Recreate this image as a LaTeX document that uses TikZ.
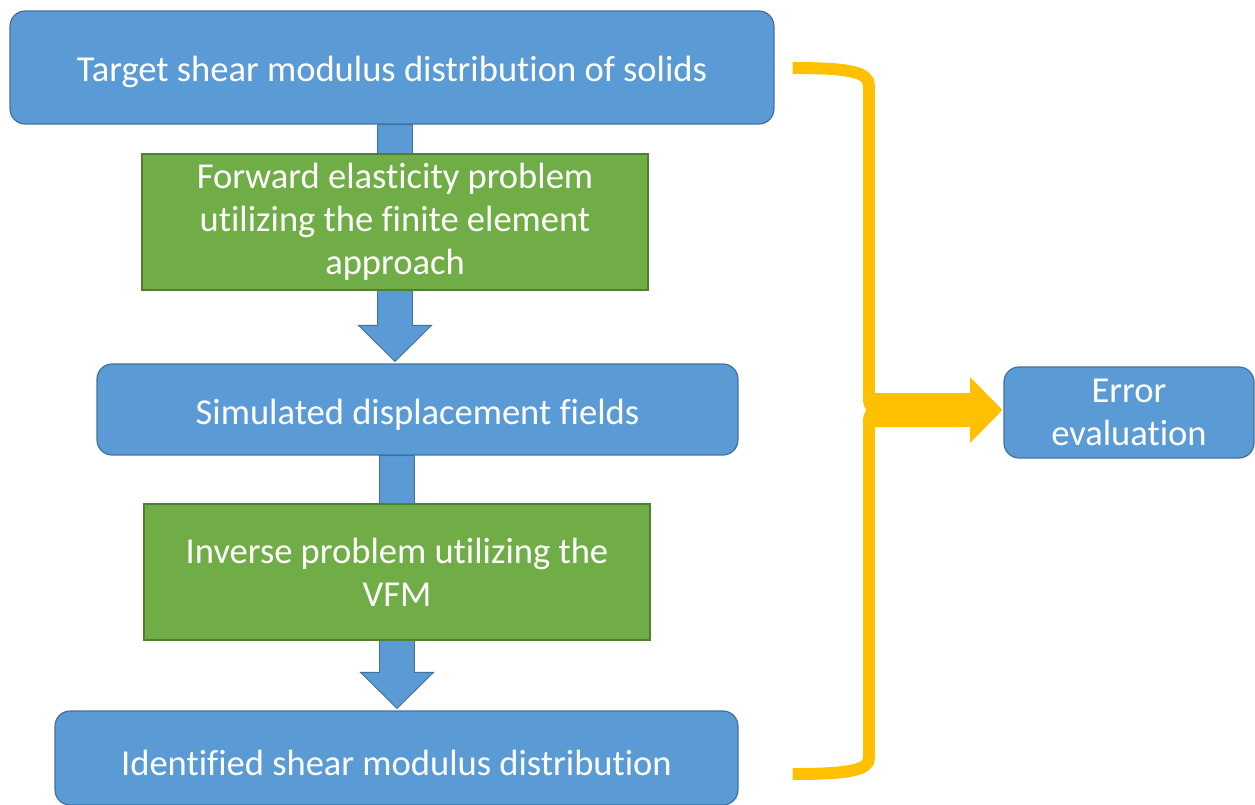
\documentclass[tikz,border=0pt]{standalone}
\usepackage{fontspec}
\setmainfont[Ligatures=NoCommon]{Carlito}
\usetikzlibrary{calc,backgrounds}

\definecolor{boxblue}{HTML}{5B9BD5}
\definecolor{edgeblue}{HTML}{41719C}
\definecolor{boxgreen}{HTML}{70AD47}
\definecolor{edgegreen}{HTML}{507E32}
\definecolor{braceyellow}{HTML}{FFC000}

\tikzset{
  bluebox/.style={draw=edgeblue, fill=boxblue, rounded corners=0.3cm, line width=0.7pt,
    text=white, align=center, inner sep=0pt, font=\fontsize{20.8}{24.6}\selectfont},
  greenbox/.style={draw=edgegreen, fill=boxgreen, line width=0.7pt,
    text=white, align=center, inner sep=0pt, font=\fontsize{20.8}{24.6}\selectfont},
  oneline/.style={execute at begin node={\rule{0pt}{20pt}}},
  blkarrow/.style={draw=edgeblue, fill=boxblue, line width=0.5pt, line join=miter},
  bracestroke/.style={draw=braceyellow, line width=6.8pt}
}

% down block arrow: #1 gives x, from #2 to #3
\newcommand{\blockdown}[3]{%
  \draw[blkarrow] ($(#2.south -| #1.center)+(-17.5,0)$)
    -- ($(#3.north -| #1.center)+(-17.5,-38)$) -- ++(-19,0)
    -- ($(#3.north -| #1.center)+(0,-2)$)
    -- ($(#3.north -| #1.center)+(36.5,-38)$) -- ++(-19,0)
    -- ($(#2.south -| #1.center)+(17.5,0)$) -- cycle;}

\begin{document}
\begin{tikzpicture}[x=0.02cm, y=-0.02cm]
  \useasboundingbox (0,0) rectangle (1255,805);

  % main column
  \node[bluebox, oneline, minimum width=15.28cm, minimum height=2.26cm] (target) at (392,67.5)
    {Target shear modulus distribution of solids};
  \node[greenbox, oneline, minimum width=10.12cm, minimum height=2.72cm] (fwd) at (395,222)
    {Forward elasticity problem\\utilizing the finite element\\approach};
  \node[bluebox, oneline, minimum width=12.82cm, minimum height=1.82cm] (sim) at (417.5,409.5)
    {Simulated displacement fields};
  \node[greenbox, minimum width=10.12cm, minimum height=2.72cm] (inv) at (397,572)
    {Inverse problem utilizing the\\VFM};
  \node[bluebox, oneline, minimum width=13.66cm, minimum height=1.88cm] (ident) at (396.5,758)
    {Identified shear modulus distribution};

  % side box
  \node[bluebox, minimum width=5.0cm, minimum height=1.82cm] (err) at (1129,412.5)
    {Error\\evaluation};

  \begin{scope}[on background layer]
    \blockdown{fwd}{target}{sim}
    \blockdown{inv}{sim}{ident}
  \end{scope}

  % brace
  \coordinate (btop) at ($(target.east)+(18,0.5)$);
  \coordinate (bbot) at ($(ident.east)+(54,16)$);
  \coordinate (cusp) at (880,410);
  \draw[bracestroke] (btop) .. controls (850,68) and (869,72) .. (869,86)
    -- (869,398) .. controls (869,406) and (872,410) .. (cusp);
  \draw[bracestroke] (cusp) .. controls (872,410) and (869,414) .. (869,422)
    -- (869,758) .. controls (869,770) and (850,774) .. (bbot);

  % arrow to error box
  \fill[braceyellow] (875,393) -- (970,393) -- (970,377)
    -- ($(err.west)+(-1,-2.5)$) -- (970,443) -- (970,427) -- (875,427) -- cycle;
\end{tikzpicture}
\end{document}
